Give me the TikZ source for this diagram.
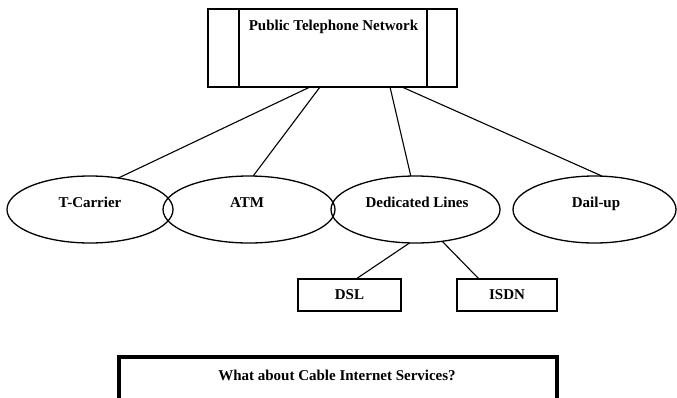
\documentclass[tikz,border=0pt]{standalone}
\usepackage{fontspec}
\setmainfont{Liberation Serif}
\usetikzlibrary{shapes.geometric}
\begin{document}
\begin{tikzpicture}[x=1pt,y=-1pt,
  txt/.style={font=\fontsize{15}{18}\selectfont\bfseries},
  btxt/.style={txt, anchor=base, inner sep=0pt},
  shp/.style={draw, line width=1.3pt, inner sep=0pt, outer sep=0pt},
  ell/.style={shp, ellipse, minimum height=67pt},
  sbox/.style={shp, rectangle, minimum width=102pt, minimum height=32pt, txt},
  conn/.style={line width=1.1pt}]
\useasboundingbox (0,0) rectangle (677,397);
% top box
\node[shp, rectangle, minimum width=249pt, minimum height=78pt] (ptn) at (332.5,48) {};
\draw[line width=1.3pt] ([xshift=31pt]ptn.north west) -- ([xshift=31pt]ptn.south west);
\draw[line width=1.3pt] ([xshift=-30pt]ptn.north east) -- ([xshift=-30pt]ptn.south east);
\node[btxt] (ptnt) at (333.5,30) {Public Telephone Network};
% ellipses
\node[ell, minimum width=166pt] (tc) at (90,209.5) {};
\node[ell, minimum width=172pt] (atm) at (249,209.5) {};
\node[ell, minimum width=169pt] (ded) at (415.5,209.5) {};
\node[ell, minimum width=163pt] (dial) at (594.5,209.5) {};
\node[btxt] (tct) at (90,207) {T-Carrier};
\node[btxt] (atmt) at (247,207) {ATM};
\node[btxt] (dedt) at (417,207) {Dedicated Lines};
\node[btxt] (dialt) at (596,207) {Dail-up};
% small boxes
\node[sbox, minimum width=103pt] (dsl) at (349.5,295) {DSL};
\node[sbox, minimum width=100pt] (isdn) at (507,295) {ISDN};
% connectors
\draw[conn] ([xshift=-22.5pt]ptn.south) -- (tc.48);
\draw[conn] ([xshift=-12.5pt]ptn.south) -- (atm.83);
\draw[conn] ([xshift=57.5pt]ptn.south) -- (ded.98);
\draw[conn] ([xshift=69.5pt]ptn.south) -- (dial.77);
\draw[conn] (ded.260.7) -- ([xshift=6.5pt]dsl.north);
\draw[conn] (ded.310.4) -- ([xshift=-28pt]isdn.north);
% bottom box
\node[draw, line width=4.5pt, rectangle, minimum width=438pt, minimum height=80pt, inner sep=0pt] (cable) at (338,397) {};
\node[btxt] (cablet) at (337,380) {What about Cable Internet Services?};
\end{tikzpicture}
\end{document}
